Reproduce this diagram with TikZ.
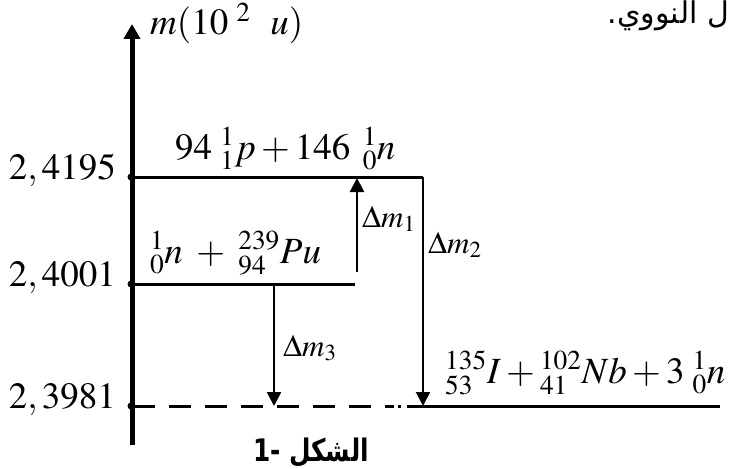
\documentclass[tikz,border=0pt]{standalone}
\usepackage{mathptmx}
\usepackage[no-math]{fontspec}
\newfontfamily\arabicfont[Script=Arabic]{DejaVu Sans}
\TeXXeTstate=1
\usetikzlibrary{calc}
\usetikzlibrary{arrows.meta}

\begin{document}
\begin{tikzpicture}[x=1pt,y=-1pt,inner sep=0pt,
  axis/.style={line width=5pt,-{Triangle[length=15pt,width=16pt]}},
  level/.style={line width=3pt},
  gap/.style={line width=2.5pt,-{Triangle[length=14pt,width=14pt]}},
  dot/.style={circle,fill,minimum size=7pt},
  big/.style={font=\fontsize{37}{40}\selectfont},
  small/.style={font=\fontsize{31}{34}\selectfont}]
\useasboundingbox (0,0) rectangle (730,468);

% axis
\coordinate (o) at (132,445);
\coordinate (top) at (132,24);
\draw[axis] (o) -- (top);
\node[big,anchor=base west] (mlab) at ($(top)+(18,11)$) {$m(10^{\hspace{8pt}2}\hspace{20pt}u)$};

% levels
\node[dot] (a1) at (131,177) {};
\node[dot] (a2) at (131,284) {};
\node[dot] (a3) at (131,406) {};
\node[big,anchor=mid east] (l1) at ($(a1)+(-15,0)$) {$2,4195$};
\node[big,anchor=mid east] (l2) at ($(a2)+(-15,0)$) {$2,4001$};
\node[big,anchor=mid east] (l3) at ($(a3)+(-15,0)$) {$2,3981$};

\coordinate (b1) at (423,177);
\coordinate (c2) at (355,284);
\coordinate (e3) at (720,406);
\draw[level] (a1) -- (b1);
\draw[level] (a2) -- (c2);
\draw[level,dash pattern={on 20pt off 14pt on 22pt off 14pt on 22pt off 14pt on 22pt off 14pt
  on 22pt off 14pt on 22pt off 14pt on 22pt off 14pt on 9pt off 4pt on 3pt off 6pt on 400pt}]
  (a3) -- (e3);

\node[big,anchor=base west] (s1) at (175,159) {$94\;{}^{1}_{1}p+146\;\,{}^{1}_{0}n$};
\node[big,anchor=base west] (s2) at (150,263) {${}^{1}_{0}n\;+\;{}^{239}_{94}Pu$};
\node[big,anchor=base west] (s3) at (445,383) {${}^{135}_{53}I+{}^{102}_{41}Nb+3\;{}^{1}_{0}n$};

% mass defects
\coordinate (p1) at (357,272);
\coordinate (q1) at (357,178);
\coordinate (b3) at (423,406);
\coordinate (p3) at (274,284);
\coordinate (q3) at (274,406);
\draw[gap] (p1) -- (q1);
\draw[gap,line width=2pt] (b1) -- (b3);
\draw[gap] (p3) -- (q3);
\node[small,anchor=base west] (d1) at ($(p1)+(5,-45)$) {$\Delta m_1$};
\node[small,anchor=base west] (d2) at (428,253) {$\Delta m_2$};
\node[small,anchor=base west] (d3) at ($(p3)+(9,72)$) {$\Delta m_3$};

% caption
\node[anchor=base west,text depth=0pt,font=\arabicfont\bfseries\fontsize{31}{33}\selectfont] (cap) at (253,461) {\scalebox{0.8}[1]{\beginR الشكل -1\endR}};
\node[anchor=base east,font=\arabicfont\fontsize{30}{32}\selectfont] (frag) at (729,24) {\beginR ل النووي.\endR};
\end{tikzpicture}
\end{document}
